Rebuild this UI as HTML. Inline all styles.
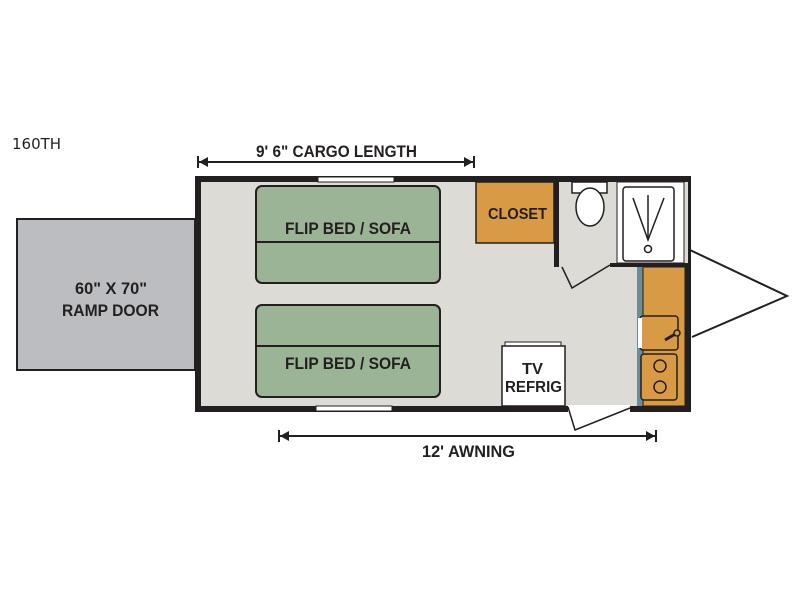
<!DOCTYPE html>
<html><head><style>body{margin:0;background:#fff}svg{display:block}text{font-family:"Liberation Sans Narrow","Liberation Sans",sans-serif;font-weight:bold;fill:#231f20}</style></head><body>
<svg width="800" height="600" viewBox="0 0 800 600" xmlns="http://www.w3.org/2000/svg">
<rect width="800" height="600" fill="#fff"/>
<text x="12" y="149" font-size="15" style="font-weight:normal;font-family:'DejaVu Sans',sans-serif">160TH</text>
<!-- ramp -->
<rect x="17" y="219" width="178" height="151" fill="#bcbdc0" stroke="#231f20" stroke-width="2"/>
<text x="75" y="294" font-size="17" textLength="72" lengthAdjust="spacingAndGlyphs">60" X 70"</text>
<text x="62" y="316" font-size="17" textLength="97" lengthAdjust="spacingAndGlyphs">RAMP DOOR</text>
<!-- tongue -->
<polyline points="690,250 787,296 692,337" fill="none" stroke="#231f20" stroke-width="2"/>
<!-- body -->
<rect x="198" y="179" width="490" height="230" fill="#dcdbd6" stroke="#231f20" stroke-width="6"/>
<!-- windows -->
<rect x="318" y="177" width="76" height="5" fill="#fff" stroke="#231f20" stroke-width="1"/>
<rect x="316" y="406" width="76" height="5" fill="#fff" stroke="#231f20" stroke-width="1"/>
<!-- beds -->
<rect x="256" y="186" width="184" height="97" rx="6" fill="#9cb496" stroke="#231f20" stroke-width="2"/>
<line x1="256" y1="242" x2="440" y2="242" stroke="#231f20" stroke-width="2"/>
<text x="285" y="234" font-size="17" textLength="126" lengthAdjust="spacingAndGlyphs">FLIP BED / SOFA</text>
<rect x="256" y="305" width="184" height="92" rx="6" fill="#9cb496" stroke="#231f20" stroke-width="2"/>
<line x1="256" y1="346" x2="440" y2="346" stroke="#231f20" stroke-width="2"/>
<text x="285" y="369" font-size="17" textLength="126" lengthAdjust="spacingAndGlyphs">FLIP BED / SOFA</text>
<!-- closet -->
<rect x="476" y="182" width="78" height="61" fill="#d99a45" stroke="#231f20" stroke-width="1.5"/>
<text x="488" y="219" font-size="16" textLength="59" lengthAdjust="spacingAndGlyphs">CLOSET</text>
<!-- bathroom -->
<rect x="558" y="182" width="130" height="83" fill="#dcdbd6"/>
<rect x="554" y="182" width="5" height="85" fill="#231f20"/>
<rect x="610" y="263" width="80" height="4" fill="#231f20"/>
<polyline points="562,267 572,288 610,265" fill="none" stroke="#231f20" stroke-width="1.5"/>
<rect x="617" y="182" width="67" height="81" fill="#fff" stroke="#231f20" stroke-width="1"/>
<rect x="623" y="187" width="51" height="74" rx="3" fill="#fff" stroke="#231f20" stroke-width="1.5"/>
<polyline points="633,198 648,240 664,198" fill="none" stroke="#231f20" stroke-width="1.5"/>
<line x1="648" y1="195" x2="648" y2="240" stroke="#231f20" stroke-width="1.5"/>
<circle cx="648" cy="249" r="3.5" fill="#fff" stroke="#231f20" stroke-width="1.5"/>
<rect x="572" y="182" width="35" height="11" fill="#fff" stroke="#231f20" stroke-width="1.5"/>
<ellipse cx="590" cy="207" rx="14" ry="19" fill="#fff" stroke="#231f20" stroke-width="1.5"/>
<!-- kitchen -->
<rect x="637" y="267" width="6" height="139" fill="#6e8c93"/>
<rect x="643" y="267" width="42" height="139" fill="#d99a45" stroke="#231f20" stroke-width="1"/>
<rect x="640" y="316" width="38" height="34" rx="3" fill="#d99a45" stroke="#231f20" stroke-width="1.5"/>
<rect x="638" y="318" width="4" height="30" fill="#fff"/>
<line x1="665" y1="340" x2="677" y2="333" stroke="#231f20" stroke-width="3"/>
<circle cx="677" cy="333" r="3" fill="#d99a45" stroke="#231f20" stroke-width="1.5"/>
<rect x="641" y="354" width="36" height="46" rx="3" fill="#d99a45" stroke="#231f20" stroke-width="1.5"/>
<circle cx="660" cy="366" r="6" fill="none" stroke="#231f20" stroke-width="1.5"/>
<circle cx="660" cy="387" r="6" fill="none" stroke="#231f20" stroke-width="1.5"/>
<!-- tv refrig -->
<rect x="505" y="342" width="56" height="4" fill="#fff" stroke="#231f20" stroke-width="1"/>
<rect x="502" y="346" width="63" height="60" fill="#fff" stroke="#231f20" stroke-width="1.5"/>
<text x="522" y="374" font-size="16" textLength="21" lengthAdjust="spacingAndGlyphs">TV</text>
<text x="505" y="392" font-size="16" textLength="57" lengthAdjust="spacingAndGlyphs">REFRIG</text>
<!-- entry door gap -->
<rect x="568" y="405" width="62" height="8" fill="#fff"/>
<polyline points="568,407 575,430 630,408" fill="none" stroke="#231f20" stroke-width="1.5"/>
<!-- dimension arrows -->
<g stroke="#231f20" stroke-width="2" fill="#231f20">
<line x1="199" y1="162" x2="473" y2="162"/>
<line x1="198" y1="156" x2="198" y2="168"/><line x1="474" y1="156" x2="474" y2="168"/>
<polygon points="199,162 208,157 208,167" stroke-width="0"/><polygon points="473,162 464,157 464,167" stroke-width="0"/>
<line x1="280" y1="436" x2="655" y2="436"/>
<line x1="279" y1="430" x2="279" y2="442"/><line x1="656" y1="430" x2="656" y2="442"/>
<polygon points="280,436 289,431 289,441" stroke-width="0"/><polygon points="655,436 646,431 646,441" stroke-width="0"/>
</g>
<text x="256" y="157" font-size="17" textLength="161" lengthAdjust="spacingAndGlyphs">9' 6" CARGO LENGTH</text>
<text x="422" y="457" font-size="17" textLength="93" lengthAdjust="spacingAndGlyphs">12' AWNING</text>
</svg>
</body></html>
